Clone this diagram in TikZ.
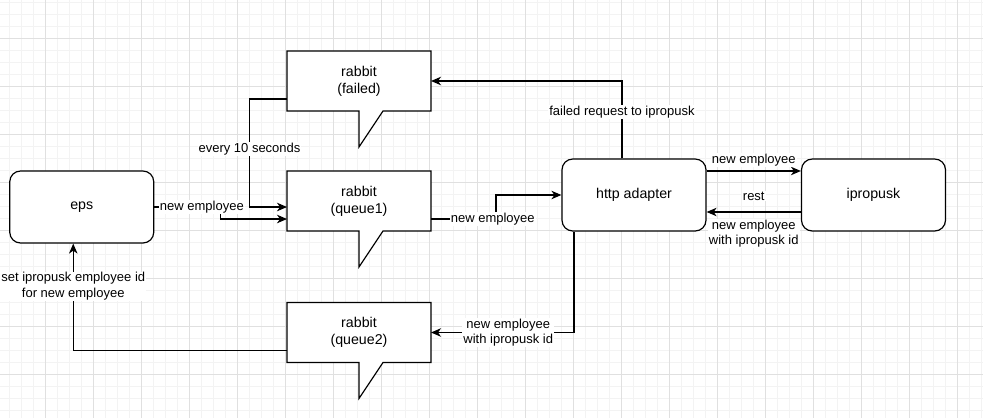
\documentclass[tikz,border=0pt]{standalone}
\usepackage{fontspec}
\setmainfont{Liberation Sans}
\usetikzlibrary{arrows.meta,calc}

\definecolor{gridminor}{HTML}{F3F3F3}
\definecolor{gridmajor}{HTML}{E0E0E0}

\pgfdeclarelayer{grid}
\pgfdeclarelayer{boxes}
\pgfsetlayers{grid,boxes,main}

\begin{document}
\begin{tikzpicture}[x=1pt,y=-1pt,
  font={\fontsize{14.2pt}{17pt}\selectfont},
  flow/.style={line width=1.2pt, arrows={-{Stealth[length=10pt,width=8.5pt,inset=3pt]}}},
  lbl/.style={fill=white, inner sep=1pt, align=center, font={\fontsize{13pt}{15.6pt}\selectfont}},
  service/.style={draw, line width=1.2pt, fill=white, rounded corners=10.8pt,
    minimum width=144pt, minimum height=72pt, align=center},
  rabbit/.style={minimum width=144pt, minimum height=60pt, outer sep=0pt, align=center}
  ]
  \useasboundingbox (0,0) rectangle (983,418);

  % grid
  \begin{pgfonlayer}{grid}
    \fill[white] (0,0) rectangle (983,418);
    \foreach \x in {9.3,21.3,...,983} \draw[gridminor, line width=1pt] (\x,0) -- (\x,418);
    \foreach \y in {2.5,14.5,...,418} \draw[gridminor, line width=1pt] (0,\y) -- (983,\y);
    \foreach \x in {45.3,93.3,...,983} \draw[gridmajor, line width=1pt] (\x,0) -- (\x,418);
    \foreach \y in {38.5,86.5,...,418} \draw[gridmajor, line width=1pt] (0,\y) -- (983,\y);
  \end{pgfonlayer}

  % services
  \node[service] (eps) at (81.75,207) {eps};
  \node[service] (http) at (634,195) {http adapter};
  \node[service] (ipropusk) at (873.5,195) {ipropusk};

  % rabbit queues
  \node[rabbit] (failed) at (359,81) {rabbit\\(failed)};
  \node[rabbit] (queue1) at (359,201) {rabbit\\(queue1)};
  \node[rabbit] (queue2) at (359,332.5) {rabbit\\(queue2)};
  \begin{pgfonlayer}{boxes}
    \foreach \q in {failed,queue1,queue2}
      \draw[line width=1.2pt, fill=white] (\q.north west) -- (\q.north east) -- (\q.south east)
        -- ([xshift=24pt]\q.south) -- ([yshift=-36pt]\q.south) -- (\q.south) -- (\q.south west) -- cycle;
  \end{pgfonlayer}

  % eps -> queue1
  \draw[flow] (eps.east) -- ++(66,0) node[lbl,pos=0.72]{new employee} |- ([yshift=-18pt]queue1.west);
  % retry from failed
  \draw[flow] ([yshift=-18pt]failed.west) -- ++(-37.5,0) |- ([yshift=-6pt]queue1.west) node[lbl,pos=0.23]{every 10 seconds};
  % queue1 -> http adapter
  \draw[flow] ([yshift=-18pt]queue1.east) -- ++(65,0) node[lbl,pos=0.95]{new employee} |- (http.west);
  % http adapter -> failed
  \draw[flow] ([xshift=-12pt]http.north) |- (failed.east) node[lbl,pos=0.3]{failed request to ipropusk};

  % rest calls
  \draw[flow] ([yshift=24pt]http.east) -- ([yshift=24pt]ipropusk.west) node[lbl,midway,above=3pt]{new employee};
  \draw[flow] ([yshift=-17pt]ipropusk.west) -- ([yshift=-17pt]http.east)
    node[lbl,midway,above=10pt]{rest} node[lbl,midway,below=6pt]{new employee\\with ipropusk id};

  % back to eps
  \draw[flow] ([xshift=-60pt]http.south) |- (queue2.east) node[lbl,pos=0.73]{new employee\\with ipropusk id};
  \draw[flow] ([yshift=-18pt]queue2.west) -| ([xshift=-8.5pt]eps.south) node[lbl,pos=0.8]{set ipropusk employee id\\for new employee};
\end{tikzpicture}
\end{document}
